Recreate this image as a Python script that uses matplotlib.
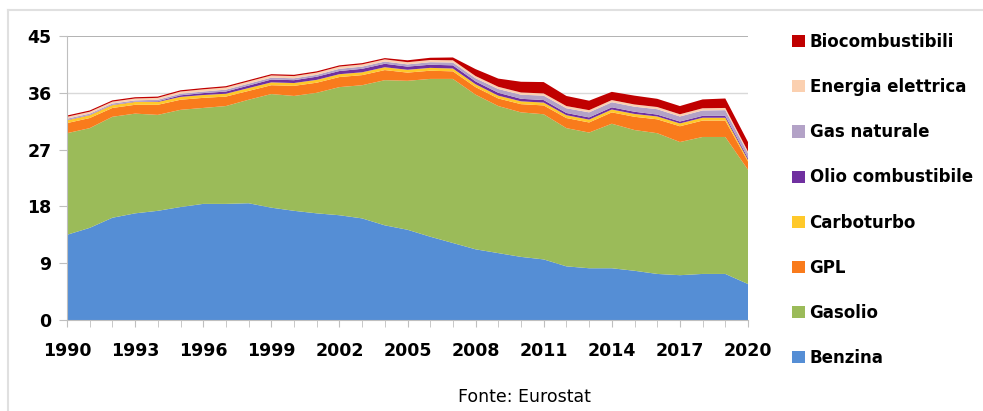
import matplotlib
matplotlib.use("Agg")
import matplotlib.pyplot as plt
from matplotlib.lines import Line2D

years = list(range(1990, 2021))

benzina = [13.5, 14.6, 16.2, 16.9, 17.3, 17.9, 18.4, 18.4, 18.5, 17.8, 17.3,
           16.9, 16.6, 16.1, 15.0, 14.3, 13.2, 12.2, 11.2, 10.6, 10.0, 9.6,
           8.5, 8.2, 8.2, 7.8, 7.3, 7.1, 7.3, 7.3, 5.7]
gasolio = [16.1, 15.8, 16.0, 15.8, 15.2, 15.4, 15.2, 15.5, 16.4, 18.0, 18.2,
           19.1, 20.3, 21.1, 23.0, 23.6, 25.0, 26.0, 24.5, 23.3, 22.9, 23.0,
           21.9, 21.5, 22.9, 22.3, 22.3, 21.1, 21.7, 21.7, 18.1]
gpl = [1.6, 1.6, 1.4, 1.4, 1.6, 1.6, 1.6, 1.5, 1.4, 1.4, 1.6, 1.6, 1.6, 1.6,
       1.6, 1.3, 1.3, 1.2, 1.2, 1.2, 1.3, 1.4, 1.6, 1.6, 1.8, 2.1, 2.2, 2.5,
       2.6, 2.6, 1.3]
carboturbo = [0.45, 0.45, 0.45, 0.45, 0.45, 0.45, 0.45, 0.45, 0.45, 0.45,
              0.45, 0.45, 0.45, 0.45, 0.45, 0.45, 0.45, 0.45, 0.45, 0.45,
              0.45, 0.45, 0.45, 0.45, 0.45, 0.45, 0.45, 0.45, 0.45, 0.45, 0.25]
olio_combustibile = [0.05, 0.05, 0.05, 0.05, 0.1, 0.25, 0.3, 0.35, 0.4, 0.45,
                     0.45, 0.5, 0.5, 0.55, 0.55, 0.5, 0.5, 0.5, 0.45, 0.45,
                     0.4, 0.4, 0.35, 0.35, 0.35, 0.35, 0.3, 0.3, 0.3, 0.3, 0.3]
gas_naturale = [0.2, 0.2, 0.2, 0.2, 0.25, 0.25, 0.25, 0.3, 0.3, 0.3, 0.3,
                0.3, 0.35, 0.35, 0.35, 0.35, 0.4, 0.45, 0.5, 0.6, 0.65, 0.7,
                0.75, 0.8, 0.8, 0.8, 0.85, 0.8, 0.85, 0.9, 0.75]
energia_elettrica = [0.3, 0.3, 0.3, 0.3, 0.3, 0.35, 0.35, 0.35, 0.35, 0.35,
                     0.35, 0.35, 0.35, 0.35, 0.35, 0.35, 0.35, 0.35, 0.35,
                     0.35, 0.35, 0.35, 0.35, 0.35, 0.35, 0.35, 0.35, 0.35,
                     0.35, 0.35, 0.3]
biocombustibili = [0.2, 0.2, 0.2, 0.2, 0.2, 0.2, 0.2, 0.2, 0.2, 0.2, 0.2,
                   0.2, 0.2, 0.2, 0.2, 0.3, 0.35, 0.45, 1.1, 1.3, 1.7, 1.8,
                   1.6, 1.5, 1.3, 1.4, 1.3, 1.3, 1.4, 1.5, 1.5]

labels = ["Benzina", "Gasolio", "GPL", "Carboturbo", "Olio combustibile",
          "Gas naturale", "Energia elettrica", "Biocombustibili"]
colors = ["#558ed5", "#9bbb59", "#f97b1c", "#ffc92a", "#7030a0",
          "#b3a2c7", "#fbd0b0", "#c00000"]

fig = plt.figure(figsize=(9.83, 4.11), dpi=100)
ax = fig.add_axes([67 / 983, 1 - 320 / 411, 681 / 983, 284 / 411])

ax.stackplot(years, benzina, gasolio, gpl, carboturbo, olio_combustibile,
             gas_naturale, energia_elettrica, biocombustibili,
             colors=colors, labels=labels, linewidth=0, zorder=2)

ax.set_xlim(1990, 2020)
ax.set_ylim(0, 45)
ax.set_yticks(range(0, 46, 9))
ax.set_xticks(range(1990, 2021, 3))
ax.set_xticks(years, minor=True)
for y in range(9, 45, 9):
    ax.axhline(y, color="#d9d9d9", lw=1, zorder=1)
ax.axhline(45, color="#a6a6a6", lw=1.2, zorder=1)

for s in ["top", "right"]:
    ax.spines[s].set_visible(False)
for s in ["left", "bottom"]:
    ax.spines[s].set_color("#bfbfbf")
ax.tick_params(axis="y", length=6, color="#bfbfbf", pad=5,
               labelsize=12.5)
ax.tick_params(axis="x", which="both", length=5, color="#bfbfbf", pad=11,
               labelsize=12.5)
for t in ax.get_xticklabels() + ax.get_yticklabels():
    t.set_fontweight("bold")

handles, labs = ax.get_legend_handles_labels()
fig.legend(handles[::-1], labs[::-1], loc="upper left",
           bbox_to_anchor=(792 / 983, 1 - 33 / 411), frameon=False,
           prop={"weight": "bold", "size": 12}, handlelength=0.75,
           handleheight=0.75, handletextpad=0.3, labelspacing=1.63,
           borderpad=0, borderaxespad=0)

fig.text(524 / 983, 1 - 397 / 411, "Fonte: Eurostat", ha="center",
         va="center", fontsize=12.5)

# light frame of the original picture
fig.add_artist(Line2D([8 / 983, 1], [1 - 10 / 411] * 2,
                      color="#e0e0e0", lw=1.5, transform=fig.transFigure))
fig.add_artist(Line2D([8 / 983] * 2, [0, 1 - 10 / 411],
                      color="#e0e0e0", lw=1.5, transform=fig.transFigure))

fig.savefig("out.png", dpi=100)
